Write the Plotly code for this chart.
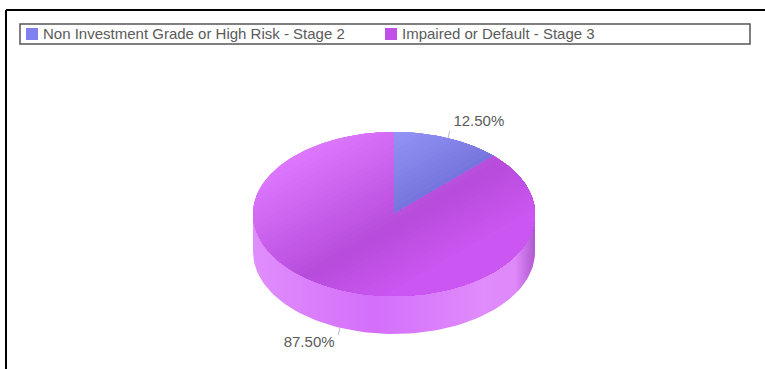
import math
import plotly.graph_objects as go

categories = ["Non Investment Grade or High Risk - Stage 2", "Impaired or Default - Stage 3"]
shares = [12.5, 87.5]
legend_colors = ["#8080f0", "#c050e8"]
# gradient stops (offset along the light axis, colour) for each slice's top face
top_stops = [
    [(-95, (158, 158, 255)), (10, (112, 112, 216))],
    [(-95, (220, 118, 253)), (10, (183, 76, 219)), (70, (204, 86, 242))],
]
side_stops = [(0.0, "rgb(224,142,252)"), (0.43, "rgb(212,110,251)"), (0.82, "rgb(224,140,252)"),
              (0.93, "rgb(222,136,250)"), (1.0, "rgb(176,88,208)")]

W, H = 765, 369
CX, CY, RX, RY, DEPTH = 394, 214, 141, 82, 38
NORMAL = (0.5, 0.866)
BANDS = 44
FONT = "Liberation Sans"
TEXT = "#5a5a5a"
LEGEND_SWATCH_X = [32, 391]
LEGEND_TEXT_X = [43, 402]
LEGEND_Y = 35


def lerp(stops, t):
    if t <= stops[0][0]:
        return stops[0][1]
    for (a, ca), (b, cb) in zip(stops, stops[1:]):
        if t <= b:
            f = (t - a) / (b - a)
            return tuple(ca[i] + (cb[i] - ca[i]) * f for i in range(3))
    return stops[-1][1]


def clip(poly, n, lo):
    """Keep the part of a polygon at or beyond offset lo along n."""
    out = []
    for i, p in enumerate(poly):
        q = poly[(i + 1) % len(poly)]
        dp = p[0] * n[0] + p[1] * n[1] - lo
        dq = q[0] * n[0] + q[1] * n[1] - lo
        if dp >= 0:
            out.append(p)
        if dp * dq < 0:
            f = dp / (dp - dq)
            out.append((p[0] + (q[0] - p[0]) * f, p[1] + (q[1] - p[1]) * f))
    return out


def ell(deg, dy=0):
    a = math.radians(deg)
    return (RX * math.sin(a), RY * -math.cos(a) + dy)


def add_bands(fig, poly, n, stops, lo, hi, bands, name):
    # painted back to front, each layer covering everything beyond its offset, so no seams show
    step = (hi - lo) / bands
    for i in range(bands):
        a = lo + i * step
        pts = clip(poly, n, a)
        if len(pts) < 3:
            continue
        r, g, bl = lerp(stops, a + step / 2)
        col = f"rgb({r:.0f},{g:.0f},{bl:.0f})"
        fig.add_trace(go.Scatter(
            x=[CX + p[0] for p in pts] + [CX + pts[0][0]],
            y=[CY + p[1] for p in pts] + [CY + pts[0][1]],
            mode="lines", fill="toself", fillcolor=col,
            line=dict(width=0), hoverinfo="skip",
            showlegend=False, name=name))


fig = go.Figure()

# side wall
side = [ell(d) for d in range(90, 271, 2)] + [ell(d, DEPTH) for d in range(270, 89, -2)]
side.append(side[0])
fig.add_trace(go.Scatter(
    x=[CX + p[0] for p in side], y=[CY + p[1] for p in side],
    mode="lines", fill="toself", line=dict(width=0),
    fillgradient=dict(type="horizontal", colorscale=side_stops),
    hoverinfo="skip", showlegend=False, name="side"))

# top faces, from the shares
start = 0
for k, (share, stops) in enumerate(zip(shares, top_stops)):
    sweep = share / sum(shares) * 360
    n_pts = max(4, int(sweep))
    wedge = [(0.0, 0.0)] + [ell(start + sweep * j / n_pts) for j in range(n_pts + 1)]
    add_bands(fig, wedge, NORMAL, stops, -110, 110, BANDS, categories[k])
    start += sweep

# leader lines and labels
start = 0
for k, share in enumerate(shares):
    sweep = share / sum(shares) * 360
    mid = start + sweep / 2
    start += sweep
    front = 90 < mid < 270
    ex, ey = ell(mid, DEPTH if front else 0)
    ux, uy = math.sin(math.radians(mid)), -math.cos(math.radians(mid))
    fig.add_trace(go.Scatter(
        x=[CX + ex, CX + ex + ux * 5], y=[CY + ey, CY + ey + uy * 8],
        mode="lines", line=dict(color="#b8b8c4", width=1),
        hoverinfo="skip", showlegend=False))
    fig.add_trace(go.Scatter(
        x=[CX + ex + ux * 5 + (29 * (1 if ux > 0 else -1))],
        y=[CY + ey + uy * 8 + (-8.5 if uy < 0 else 8.5)],
        mode="text", text=[f"{share:.2f}%"],
        textposition="middle center",
        textfont=dict(family=FONT, size=15, color=TEXT),
        hoverinfo="skip", showlegend=False))

# legend entries
for cat, col, sx, tx in zip(categories, legend_colors, LEGEND_SWATCH_X, LEGEND_TEXT_X):
    fig.add_trace(go.Scatter(
        x=[sx], y=[LEGEND_Y - 1], mode="markers", name=cat,
        marker=dict(symbol="square", size=12, color=col),
        hoverinfo="skip", showlegend=False))
    fig.add_trace(go.Scatter(
        x=[tx], y=[LEGEND_Y], mode="text", text=[cat], textposition="middle right",
        textfont=dict(family=FONT, size=15, color=TEXT),
        hoverinfo="skip", showlegend=False))

frame = dict(color="#000000", width=2)
shapes = [
    dict(type="line", xref="x", yref="y", x0=6, x1=W, y0=10, y1=10, line=frame),
    dict(type="line", xref="x", yref="y", x0=6, x1=6, y0=10, y1=H, line=frame),
    dict(type="rect", xref="x", yref="y", x0=20, x1=750, y0=24, y1=44,
         line=dict(color="#555555", width=1.5), fillcolor="rgba(0,0,0,0)"),
]

fig.update_layout(
    width=W, height=H, margin=dict(l=0, r=0, t=0, b=0),
    paper_bgcolor="white", plot_bgcolor="white",
    xaxis=dict(range=[0, W], visible=False, fixedrange=True),
    yaxis=dict(range=[H, 0], visible=False, fixedrange=True),
    shapes=shapes, showlegend=False,
)
fig.write_html("out.html", config={"displayModeBar": False},
               post_script="document.body.style.margin='0';document.body.style.overflow='hidden';")
